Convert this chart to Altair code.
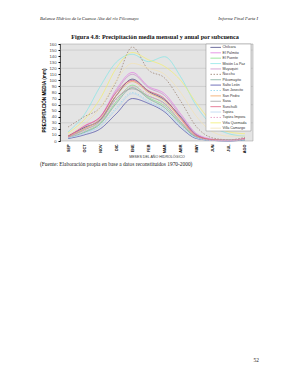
import altair as alt
import pandas as pd

months = ["SEP", "OCT", "NOV", "DIC", "ENE", "FEB", "MAR", "ABR", "MAY", "JUN", "JUL", "AGO"]

series_names = [
    "Chilcara", "El Palmito", "El Puente", "Misión La Paz", "Muyuquiri", "Ñucchu",
    "Pilcomayito", "Salto León", "San Josecito", "San Pedro", "Sasa", "Sunchulli",
    "Tupiza", "Tupiza Impora", "Viña Quemada", "Villa Camargo",
]

chilcara      = [8, 22, 35, 75, 102, 82, 68, 40, 10, 2, 1, 3]
el_palmito    = [6, 25, 40, 85, 113, 90, 78, 45, 12, 3, 1, 4]
el_puente     = [5, 15, 30, 65, 92, 72, 58, 30, 6, 1, 1, 2]
mision_la_paz = [15, 43, 90, 130, 143, 131, 139, 106, 57, 25, 12, 8]
muyuquiri     = [7, 20, 38, 82, 110, 88, 75, 42, 10, 2, 1, 3]
nucchu        = [23, 40, 55, 98, 155, 117, 104, 66, 23, 5, 2, 6]
pilcomayito   = [5, 14, 28, 62, 88, 70, 55, 28, 6, 1, 1, 2]
salto_leon    = [4, 10, 20, 45, 70, 62, 48, 22, 4, 1, 0, 2]
san_josecito  = [5, 14, 25, 55, 80, 66, 52, 25, 5, 1, 1, 2]
san_pedro     = [7, 20, 36, 75, 98, 80, 66, 36, 8, 2, 1, 3]
sasa          = [6, 18, 33, 70, 86, 74, 62, 32, 7, 1, 1, 3]
sunchulli     = [8, 24, 40, 80, 100, 83, 70, 38, 9, 2, 1, 4]
tupiza        = [5, 12, 24, 52, 78, 64, 50, 24, 5, 1, 1, 2]
tupiza_impora = [6, 16, 32, 68, 90, 76, 60, 32, 7, 1, 1, 3]
vina_quemada  = [13, 35, 70, 120, 146, 134, 123, 100, 62, 30, 15, 12]
villa_camargo = [10, 28, 55, 100, 128, 120, 110, 80, 40, 15, 8, 8]

all_values = [chilcara, el_palmito, el_puente, mision_la_paz, muyuquiri, nucchu,
              pilcomayito, salto_leon, san_josecito, san_pedro, sasa, sunchulli,
              tupiza, tupiza_impora, vina_quemada, villa_camargo]

colors = ["#3c3c7a", "#e27ee2", "#86de86", "#86e6e6", "#c890c8", "#a08878",
          "#7aa898", "#5050a8", "#98d8ee", "#f0a460", "#9a9a9a", "#e05878",
          "#b8d4f0", "#e49cc4", "#f2ee70", "#f2e2b4"]
dashes = [[1, 0], [1, 0], [1, 0], [1, 0], [1, 0], [1.5, 1.5],
          [1, 0], [1, 0], [1.5, 1.5], [1, 0], [1, 0], [1, 0],
          [1, 0], [1.5, 1.5], [1, 0], [1, 0]]

rows = []
for name, vals in zip(series_names, all_values):
    for m, v in zip(months, vals):
        rows.append({"mes": m, "subcuenca": name, "pp": v})
df = pd.DataFrame(rows)
leg_df = pd.DataFrame({"subcuenca": series_names})

grid_values = [30, 60, 90, 120, 150]

W, H = 193, 97

y_scale = alt.Scale(domain=[0, 160], nice=False)
y_axis = alt.Axis(title="PRECIPITACIÓN MEDIA (mm)", values=list(range(0, 161, 10)),
                  labelFontSize=4.2, labelColor="#444", tickSize=2,
                  tickColor="#000", domainColor="#000", domainWidth=0.6,
                  labelPadding=2, grid=False, labelOverlap=False,
                  titleFontSize=4.6, titleFontWeight=900, titleColor="#000",
                  titleAngle=270, titleX=-14, titleY=56, titleAlign="center")
color_enc = alt.Color("subcuenca:N", sort=series_names,
                      scale=alt.Scale(domain=series_names, range=colors), legend=None)
dash_enc = alt.StrokeDash("subcuenca:N", sort=series_names,
                          scale=alt.Scale(domain=series_names, range=dashes), legend=None)

grid = alt.Chart(pd.DataFrame({"g": grid_values})).mark_rule(
    color="#b8b8b8", strokeWidth=0.5
).encode(y=alt.Y("g:Q", scale=y_scale, axis=y_axis))

lines = alt.Chart(df).mark_line(interpolate="monotone", strokeWidth=0.8).encode(
    x=alt.X("mes:N", sort=months, scale=alt.Scale(type="point", padding=0.5),
            axis=alt.Axis(title="MESES DEL AÑO HIDROLÓGICO", labelAngle=270,
                          labelFontSize=3.8, labelFontWeight=900, labelColor="#000",
                          labelAlign="right", labelBaseline="middle",
                          labelPadding=3, ticks=False, domain=False,
                          titleFontSize=3.6, titleFontWeight="normal",
                          titleColor="#333", titlePadding=2)),
    y=alt.Y("pp:Q", scale=y_scale, axis=y_axis),
    color=color_enc,
    strokeDash=dash_enc,
)

one = pd.DataFrame({"a": [0]})

def txt(text, x, y, size, font="Liberation Serif", weight="normal", style="normal",
        align="left", color="#222"):
    return alt.Chart(one).mark_text(
        text=text, fontSize=size, font=font, fontWeight=weight, fontStyle=style,
        align=align, baseline="middle", color=color
    ).encode(x=alt.value(x), y=alt.value(y))

header_l = txt("Balance Hídrico de la Cuenca Alta del río Pilcomayo", -20, -25, 4.6, style="italic")
header_r = txt("Informe Final   Parte I", 198, -25, 4.6, style="italic", align="right")
title = txt("Figura 4.8: Precipitación media mensual y anual por subcuenca", 95, -7, 6.2,
            weight="bold", align="center", color="#111")
source = txt("(Fuente: Elaboración propia en base a datos reconstituidos 1970-2000)", -20, 120,
             5.4, color="#222")
page = txt("52", 199, 316, 5.4, align="right")

main = alt.layer(grid, lines, header_l, header_r, title, source, page)

# legend drawn as its own layers
leg_y = alt.Y("subcuenca:N", sort=series_names,
              scale=alt.Scale(type="point", range=[3.4, 84.2], padding=0), axis=None)
leg_box = alt.Chart(one).mark_rect(fill="white", stroke="#888", strokeWidth=0.5).encode(
    x=alt.value(146), x2=alt.value(191), y=alt.value(0), y2=alt.value(87))
leg_lines = alt.Chart(leg_df).mark_rule(strokeWidth=0.9).encode(
    x=alt.value(150.5), x2=alt.value(161), y=leg_y, color=color_enc, strokeDash=dash_enc)
leg_text = alt.Chart(leg_df).mark_text(
    align="left", baseline="middle", fontSize=3.6, font="Liberation Sans", color="#333"
).encode(x=alt.value(162.5), y=leg_y, text="subcuenca:N")
legend = alt.layer(leg_box, leg_lines, leg_text)

chart = alt.layer(main, legend).resolve_scale(y="independent").properties(
    width=W, height=H,
    autosize=alt.AutoSizeParams(type="none"),
    padding={"left": 60, "top": 44, "right": 40, "bottom": 239},
    background="white",
).configure_view(
    fill="#e4e4e4", stroke="#9a9a9a", strokeWidth=0.5
).configure_axis(
    labelFont="Liberation Sans", titleFont="Liberation Sans"
)

chart.save("out.html", embed_options={"renderer": "svg", "actions": False})
